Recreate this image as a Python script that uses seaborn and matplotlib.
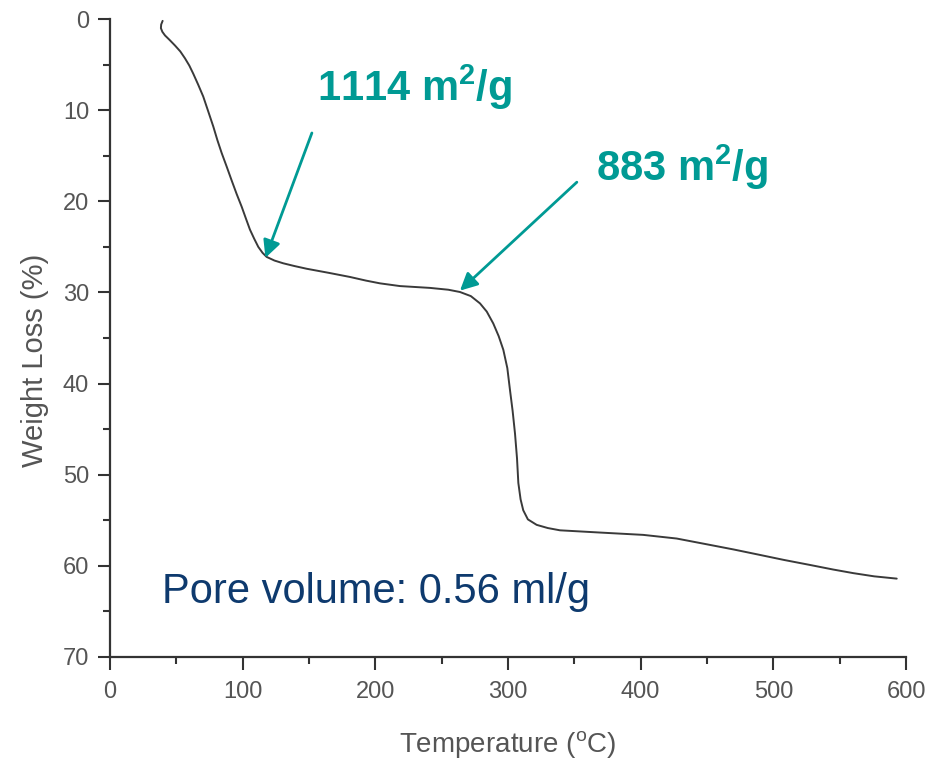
import matplotlib
matplotlib.use("Agg")
import matplotlib.pyplot as plt
import seaborn as sns
import pandas as pd
from matplotlib.ticker import MultipleLocator

# Data (TGA curve)
temperature = [39.7, 38.6, 38.4, 39.5, 41.5, 45.0, 49.0, 53.0, 56.5, 59.8, 62.8, 66.5,
               70.3, 74.0, 77.9, 81.0, 84.2, 88.0, 91.7, 95.5, 99.3, 102.5,
               105.5, 108.7, 111.8, 115.0, 118.1, 124.0, 130.6, 139.0, 148.3, 165.0,
               180.9, 193.0, 203.5, 218.6, 241.2, 255.0, 263.8,
               272.0, 278.9, 284.0, 288.9, 293.0, 296.5, 299.5, 301.5, 303.5, 305.3,
               306.8, 307.8, 309.5, 311.5, 315.0, 321.6, 330.0, 339.2, 370.0, 401.9,
               427.1, 452.2, 470.0, 489.9, 508.0, 527.6, 545.0, 560.3, 576.0, 593.0]
weight_loss = [0.2, 0.6, 1.0, 1.4, 1.8, 2.3, 2.9, 3.55, 4.3, 5.1, 6.0, 7.2,
               8.5, 10.1, 11.8, 13.3, 14.7, 16.2, 17.7, 19.2, 20.6, 21.9,
               23.1, 24.1, 25.0, 25.65, 26.1, 26.5, 26.8, 27.1, 27.4, 27.85,
               28.3, 28.7, 29.0, 29.3, 29.5, 29.7, 29.95,
               30.4, 31.2, 32.1, 33.4, 34.8, 36.3, 38.3, 40.7, 43.0, 45.5,
               48.2, 50.9, 52.7, 53.9, 54.9, 55.5, 55.85, 56.1, 56.35, 56.6,
               57.0, 57.7, 58.2, 58.8, 59.35, 59.9, 60.4, 60.8, 61.15, 61.4]

annot_labels = [r"1114 m$^{\mathbf{2}}$/g", r"883 m$^{\mathbf{2}}$/g"]
annot_points = [(117.2, 26.2), (263.8, 29.8)]
annot_tails = [(152.2, 12.5), (351.9, 17.9)]
annot_text_pos = [(156, 10.2), (366, 19.0)]
note_text = "Pore volume: 0.56 ml/g"

df = pd.DataFrame({"Temperature": temperature, "WeightLoss": weight_loss})

sns.set_style("ticks")
plt.rcParams["font.family"] = ["Liberation Sans", "DejaVu Sans"]
plt.rcParams["mathtext.fontset"] = "custom"
plt.rcParams["mathtext.rm"] = "Liberation Sans"
plt.rcParams["mathtext.bf"] = "Liberation Sans:bold"

fig = plt.figure(figsize=(9.35, 7.62), dpi=100)
ax = fig.add_axes([0.1176, 0.1378, 0.969 - 0.1176, 0.975 - 0.1378])

sns.lineplot(data=df, x="Temperature", y="WeightLoss", sort=False,
             estimator=None, color="#3a3a3a", linewidth=1.4, ax=ax)

ax.set_xlim(0, 600)
ax.set_ylim(70, 0)
ax.xaxis.set_major_locator(MultipleLocator(100))
ax.xaxis.set_minor_locator(MultipleLocator(50))
ax.yaxis.set_major_locator(MultipleLocator(10))
ax.yaxis.set_minor_locator(MultipleLocator(5))

for s in ["top", "right"]:
    ax.spines[s].set_visible(False)
for s in ["left", "bottom"]:
    ax.spines[s].set_linewidth(1.6)
    ax.spines[s].set_color("#333333")

ax.tick_params(which="major", length=9, width=1.5, color="#333333",
               labelsize=17, labelcolor="#555555", pad=6)
ax.tick_params(which="minor", length=5, width=1.5, color="#333333")
ax.tick_params(axis="x", which="major", pad=8)

ax.set_xlabel(r"Temperature ($^{\mathregular{o}}$C)", fontsize=20, color="#555555")
ax.set_ylabel("Weight Loss (%)", fontsize=21, color="#555555")
ax.xaxis.set_label_coords(0.499, -0.138)
ax.xaxis.label.set_va("center")
ax.yaxis.set_label_coords(-0.094, 0.465)
ax.yaxis.label.set_va("center")

teal = "#009A94"
for lab, pt, tail, tp in zip(annot_labels, annot_points, annot_tails, annot_text_pos):
    ax.annotate("", xy=pt, xytext=tail,
                arrowprops=dict(arrowstyle="-|>", color=teal, lw=2,
                                mutation_scale=26, shrinkA=0, shrinkB=0))
    ax.text(tp[0], tp[1], lab, fontsize=30, fontweight="bold", color=teal,
            ha="left", va="bottom")

ax.text(39, 62.9, note_text, fontsize=30, color="#0E3A6E", ha="left", va="center")

fig.savefig("out.png", dpi=100, facecolor="white")
